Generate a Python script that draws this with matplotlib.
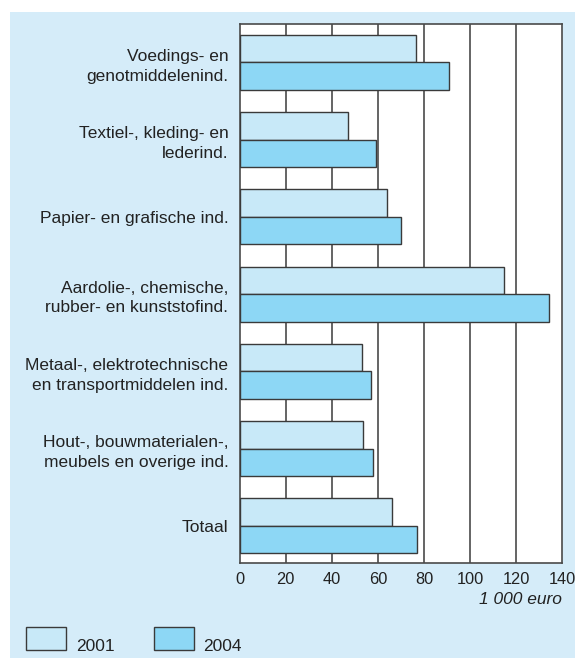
import numpy as np
import matplotlib.pyplot as plt
from matplotlib.patches import Rectangle

plt.rcParams['font.family'] = ['Liberation Sans', 'DejaVu Sans']

# data
categories = [
    "Voedings- en\ngenotmiddelenind.",
    "Textiel-, kleding- en\nlederind.",
    "Papier- en grafische ind.",
    "Aardolie-, chemische,\nrubber- en kunststofind.",
    "Metaal-, elektrotechnische\nen transportmiddelen ind.",
    "Hout-, bouwmaterialen-,\nmeubels en overige ind.",
    "Totaal",
]
values_2001 = [76.4, 46.9, 64.1, 114.8, 53.3, 53.7, 66.3]
values_2004 = [91.0, 59.0, 70.2, 134.4, 57.2, 57.8, 77.1]
years = ["2001", "2004"]
xticks = [0, 20, 40, 60, 80, 100, 120, 140]

bg = '#d5ecf9'
col_2001 = '#c8e9f8'
col_2004 = '#8dd7f5'
edge = '#3a3a3a'

W, H = 575, 658
fig = plt.figure(figsize=(W / 100, H / 100), dpi=100, facecolor='white')

# light blue panel behind everything
fig.patches.append(Rectangle((10 / W, 0), 1 - 10 / W, 1 - 12 / H,
                             transform=fig.transFigure, facecolor=bg,
                             edgecolor='none', zorder=-5))

ax = fig.add_axes([239.5 / W, 1 - 563.3 / H, 322.8 / W, 539.3 / H])
ax.set_facecolor('white')

y = np.arange(len(categories))
h = 0.356
ax.barh(y - h / 2, values_2001, height=h, color=col_2001,
        edgecolor=edge, linewidth=1.0, zorder=3)
ax.barh(y + h / 2, values_2004, height=h, color=col_2004,
        edgecolor=edge, linewidth=1.0, zorder=3)

ax.set_xlim(0, 140)
ax.set_ylim(6.486, -0.498)
ax.set_xticks(xticks)
ax.set_xticklabels([str(t) for t in xticks], fontsize=11.8, color='#222222')
ax.set_yticks(y)
ax.set_yticklabels(categories, fontsize=12.5, color='#222222',
                   linespacing=1.4)
ax.tick_params(length=0)
ax.tick_params(axis='x', pad=6)
ax.tick_params(axis='y', pad=8)

for t in xticks[1:-1]:
    ax.axvline(t, color='#4a4a4a', linewidth=1.2, zorder=1)
for s in ax.spines.values():
    s.set_color('#4a4a4a')
    s.set_linewidth(1.2)

fig.text(562 / W, 1 - 600 / H, "1 000 euro", ha='right', va='center',
         fontsize=12.5, style='italic', color='#222222')

# legend boxes
for (x0, lab, c) in [(26, years[0], col_2001), (153.5, years[1], col_2004)]:
    fig.patches.append(Rectangle((x0 / W, 1 - 650 / H), 40 / W, 23.5 / H,
                                 transform=fig.transFigure, facecolor=c,
                                 edgecolor=edge, linewidth=1.0, zorder=2))
    fig.text((x0 + 50) / W, 1 - 651 / H, lab, ha='left', va='baseline',
             fontsize=12.5, color='#222222')

fig.savefig("out.png", dpi=100, facecolor=fig.get_facecolor())
